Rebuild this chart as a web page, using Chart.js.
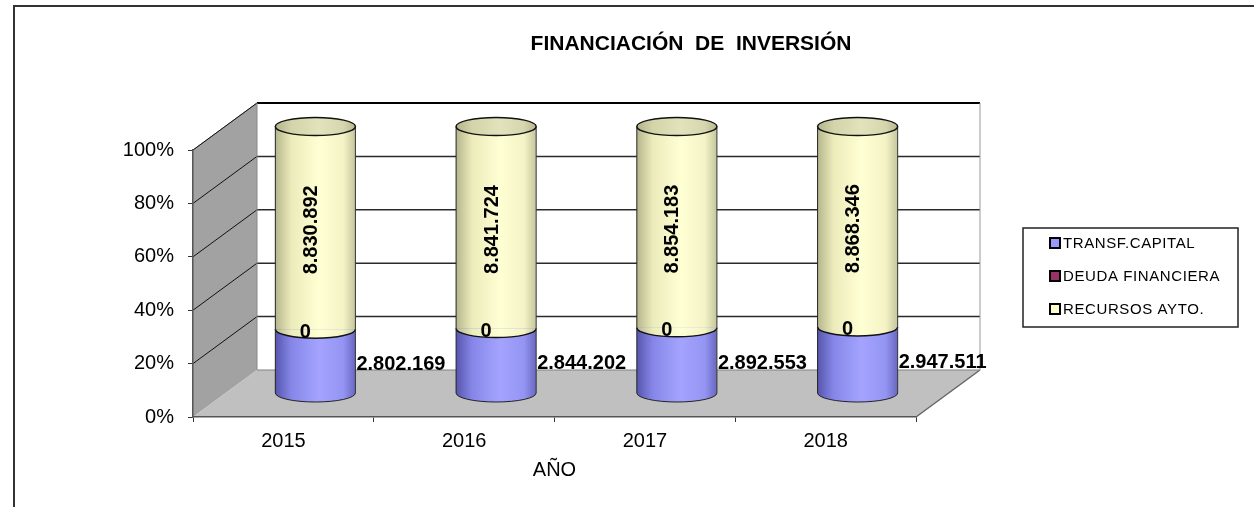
<!DOCTYPE html>
<html>
<head>
<meta charset="utf-8">
<script src="https://cdn.jsdelivr.net/npm/chart.js@4/dist/chart.umd.min.js"></script>
<style>
  html, body { margin: 0; padding: 0; background: #fff; }
  canvas { display: block; }
</style>
</head>
<body>
<canvas id="myChart" width="1254" height="507"></canvas>
<script>
/* globals Chart */

const years = ["2015", "2016", "2017", "2018"];
const transfCapital = [2802169, 2844202, 2892553, 2947511];
const deudaFinanciera = [0, 0, 0, 0];
const recursosAyto = [8830892, 8841724, 8854183, 8868346];
const seriesNames = ["TRANSF.CAPITAL", "DEUDA FINANCIERA", "RECURSOS AYTO."];
const percentTicks = [0, 20, 40, 60, 80, 100];
const chartTitle = "FINANCIACIÓN  DE  INVERSIÓN";
const axisTitle = "AÑO";

const FONT = "'Liberation Sans', Arial, sans-serif";
const DX = 64, DY = -47; // depth of the 3d box
const BAR_PCT = 0.443;

// cylinder shading, left edge -> right edge
const shades = [
  ["#5656ae", "#8686e8", "#a4a4ff", "#9494f2", "#6868c2"],
  ["#5e1f3e", "#8a2e5c", "#a23a6c", "#933363", "#6a2446"],
  ["#b6b68e", "#ebebbb", "#ffffd4", "#f3f3c6", "#c6c69e"],
];
const topShade = ["#b4b48c", "#d4d4aa", "#e2e2bc", "#d6d6ae", "#b8b890"];
const swatches = ["#9999ff", "#993366", "#ffffcc"];

const totals = years.map((_, i) => transfCapital[i] + deudaFinanciera[i] + recursosAyto[i]);
const share = (arr) => arr.map((v, i) => (v / totals[i]) * 100);
const fmt = (n) => String(n).replace(/\B(?=(\d{3})+(?!\d))/g, ".");

function hGradient(ctx, cx, half, palette) {
  const g = ctx.createLinearGradient(cx - half, 0, cx + half, 0);
  [0, 0.2, 0.55, 0.85, 1].forEach((s, k) => g.addColorStop(s, palette[k]));
  return g;
}

function cylinderFill(palette) {
  return (c) => {
    const chart = c.chart;
    if (c.type !== "data" || !chart.chartArea) return palette[2];
    const xs = chart.scales.x;
    const cx = xs.getPixelForValue(c.dataIndex);
    const half = ((xs.getPixelForValue(1) - xs.getPixelForValue(0)) * BAR_PCT) / 2;
    return hGradient(chart.ctx, cx, half, palette);
  };
}

function line(ctx, x1, y1, x2, y2, color, w) {
  ctx.strokeStyle = color;
  ctx.lineWidth = w;
  ctx.beginPath();
  ctx.moveTo(x1, y1);
  ctx.lineTo(x2, y2);
  ctx.stroke();
}

const box3d = {
  id: "box3d",
  beforeDraw(chart) {
    const { ctx, chartArea: a, scales } = chart;
    ctx.save();
    ctx.fillStyle = "#fff";
    ctx.fillRect(0, 0, chart.width, chart.height);
    ctx.strokeStyle = "#333";
    ctx.lineWidth = 2;
    ctx.strokeRect(14, 6, chart.width + 20, chart.height + 20);

    // side wall
    ctx.fillStyle = "#a2a2a2";
    ctx.beginPath();
    ctx.moveTo(a.left, a.top);
    ctx.lineTo(a.left + DX, a.top + DY);
    ctx.lineTo(a.left + DX, a.bottom + DY);
    ctx.lineTo(a.left, a.bottom);
    ctx.closePath();
    ctx.fill();
    line(ctx, a.left, a.top, a.left + DX, a.top + DY, "#777", 1);

    // floor
    ctx.fillStyle = "#c0c0c0";
    ctx.beginPath();
    ctx.moveTo(a.left, a.bottom);
    ctx.lineTo(a.left + DX, a.bottom + DY);
    ctx.lineTo(a.right + DX, a.bottom + DY);
    ctx.lineTo(a.right, a.bottom);
    ctx.closePath();
    ctx.fill();
    line(ctx, a.right, a.bottom, a.right + DX, a.bottom + DY, "#666", 1.5);

    // back wall grid
    percentTicks.forEach((v) => {
      const py = scales.y.getPixelForValue(v);
      if (v === 0) {
        line(ctx, a.left + DX, py + DY, a.right + DX, py + DY, "#808080", 1);
      } else {
        line(ctx, a.left + DX, py + DY, a.right + DX, py + DY, v === 100 ? "#000" : "#2a2a2a", v === 100 ? 2 : 1.5);
        line(ctx, a.left, py, a.left + DX, py + DY, "#111", 1);
      }
    });
    line(ctx, a.left + DX, a.top + DY, a.left + DX, a.bottom + DY, "#888", 1);
    line(ctx, a.right + DX, a.top + DY, a.right + DX, a.bottom + DY, "#999", 1);
    ctx.restore();
  },
};

function halfEllipse(ctx, x, y, rx, ry) {
  ctx.beginPath();
  ctx.ellipse(x, y, rx, ry, 0, 0, Math.PI);
  ctx.closePath();
}

const cylinders = {
  id: "cylinders",
  beforeDatasetsDraw(chart) {
    chart.ctx.save();
    chart.ctx.translate(DX / 2, DY / 2);
  },
  afterDatasetsDraw(chart) {
    const ctx = chart.ctx;
    const metas = [0, 1, 2].map((i) => chart.getDatasetMeta(i));
    const ry = 9;
    metas[0].data.forEach((bar, j) => {
      const cream = metas[2].data[j];
      const x = bar.x;
      const rx = bar.width / 2;
      const base = bar.base;
      const seam = cream.base;
      const top = cream.y;

      // bottom cap
      ctx.fillStyle = hGradient(ctx, x, rx, shades[0]);
      halfEllipse(ctx, x, base, rx, ry);
      ctx.fill();
      ctx.strokeStyle = "#222";
      ctx.lineWidth = 1;
      ctx.beginPath();
      ctx.ellipse(x, base, rx, ry, 0, 0, Math.PI);
      ctx.stroke();

      // seam between the two stacks
      ctx.fillStyle = hGradient(ctx, x, rx, shades[2]);
      halfEllipse(ctx, x, seam, rx, ry);
      ctx.fill();
      ctx.strokeStyle = "#111";
      ctx.lineWidth = 1.5;
      ctx.beginPath();
      ctx.ellipse(x, seam, rx, ry, 0, 0, Math.PI);
      ctx.stroke();

      // sides
      line(ctx, x - rx, top, x - rx, base, "#222", 1);
      line(ctx, x + rx, top, x + rx, base, "#333", 1);

      // top cap
      ctx.fillStyle = hGradient(ctx, x, rx, topShade);
      ctx.beginPath();
      ctx.ellipse(x, top, rx, ry, 0, 0, Math.PI * 2);
      ctx.fill();
      ctx.strokeStyle = "#111";
      ctx.lineWidth = 1.5;
      ctx.stroke();

      // value labels
      ctx.fillStyle = "#000";
      ctx.font = "bold 20px " + FONT;
      ctx.textBaseline = "middle";
      ctx.save();
      ctx.translate(x - 4, (top + seam) / 2 + 2);
      ctx.rotate(-Math.PI / 2);
      ctx.textAlign = "center";
      ctx.fillText(fmt(recursosAyto[j]), 0, 0);
      ctx.restore();
      ctx.textAlign = "center";
      ctx.fillText(fmt(deudaFinanciera[j]), x - 10, seam + 3);
      ctx.textAlign = "left";
      ctx.fillText(fmt(transfCapital[j]), x + rx + 1, (seam + base) / 2 + 3);
    });
    ctx.restore();
  },
};

const titleAndLegend = {
  id: "titleAndLegend",
  afterDraw(chart) {
    const ctx = chart.ctx;
    ctx.save();
    ctx.fillStyle = "#000";
    ctx.font = "bold 21px " + FONT;
    ctx.textAlign = "center";
    ctx.textBaseline = "middle";
    ctx.fillText(chartTitle, 691, 44);

    ctx.strokeStyle = "#222";
    ctx.lineWidth = 1.5;
    ctx.strokeRect(1023, 228, 215, 99);
    ctx.font = "15px " + FONT;
    ctx.letterSpacing = "0.6px";
    ctx.textAlign = "left";
    chart.data.datasets.forEach((ds, k) => {
      const cy = 243 + k * 33;
      ctx.fillStyle = swatches[k];
      ctx.fillRect(1050, cy - 5, 10, 10);
      ctx.strokeStyle = "#000";
      ctx.lineWidth = 2;
      ctx.strokeRect(1050, cy - 5, 10, 10);
      ctx.fillStyle = "#000";
      ctx.fillText(ds.label, 1063, cy + 1);
    });
    ctx.restore();
  },
};

Chart.defaults.font.family = FONT;

const ctx = document.getElementById("myChart").getContext("2d");

/* exported myChart */
const myChart = new Chart(ctx, {
  type: "bar",
  data: {
    labels: years,
    datasets: [transfCapital, deudaFinanciera, recursosAyto].map((vals, k) => ({
      label: seriesNames[k],
      data: share(vals),
      backgroundColor: cylinderFill(shades[k]),
      borderWidth: 0,
      barPercentage: BAR_PCT,
      categoryPercentage: 1,
      clip: false,
    })),
  },
  options: {
    responsive: false,
    animation: false,
    devicePixelRatio: 1,
    layout: { padding: { top: 150, left: 0, right: 338, bottom: 0 } },
    scales: {
      x: {
        stacked: true,
        afterFit: (s) => { s.height = 90; },
        ticks: { color: "#000", font: { size: 20 }, padding: 7, maxRotation: 0 },
        grid: { drawOnChartArea: false, tickLength: 5, color: "#333" },
        border: { color: "#555", width: 1.5 },
        title: {
          display: true,
          text: axisTitle,
          color: "#000",
          font: { size: 20 },
          padding: { top: 0, bottom: 25 },
        },
      },
      y: {
        stacked: true,
        min: 0,
        max: 100,
        afterFit: (s) => { s.width = 193; },
        afterBuildTicks: (s) => { s.ticks = percentTicks.map((v) => ({ value: v })); },
        ticks: { callback: (v) => `${v}%`, color: "#000", font: { size: 20 }, padding: 14 },
        grid: { drawOnChartArea: false, tickLength: 5, color: "#333" },
        border: { color: "#555", width: 1.5 },
      },
    },
    plugins: {
      title: { display: false },
      legend: { display: false },
      tooltip: { enabled: false },
    },
  },
  plugins: [box3d, cylinders, titleAndLegend],
});
</script>
</body>
</html>
